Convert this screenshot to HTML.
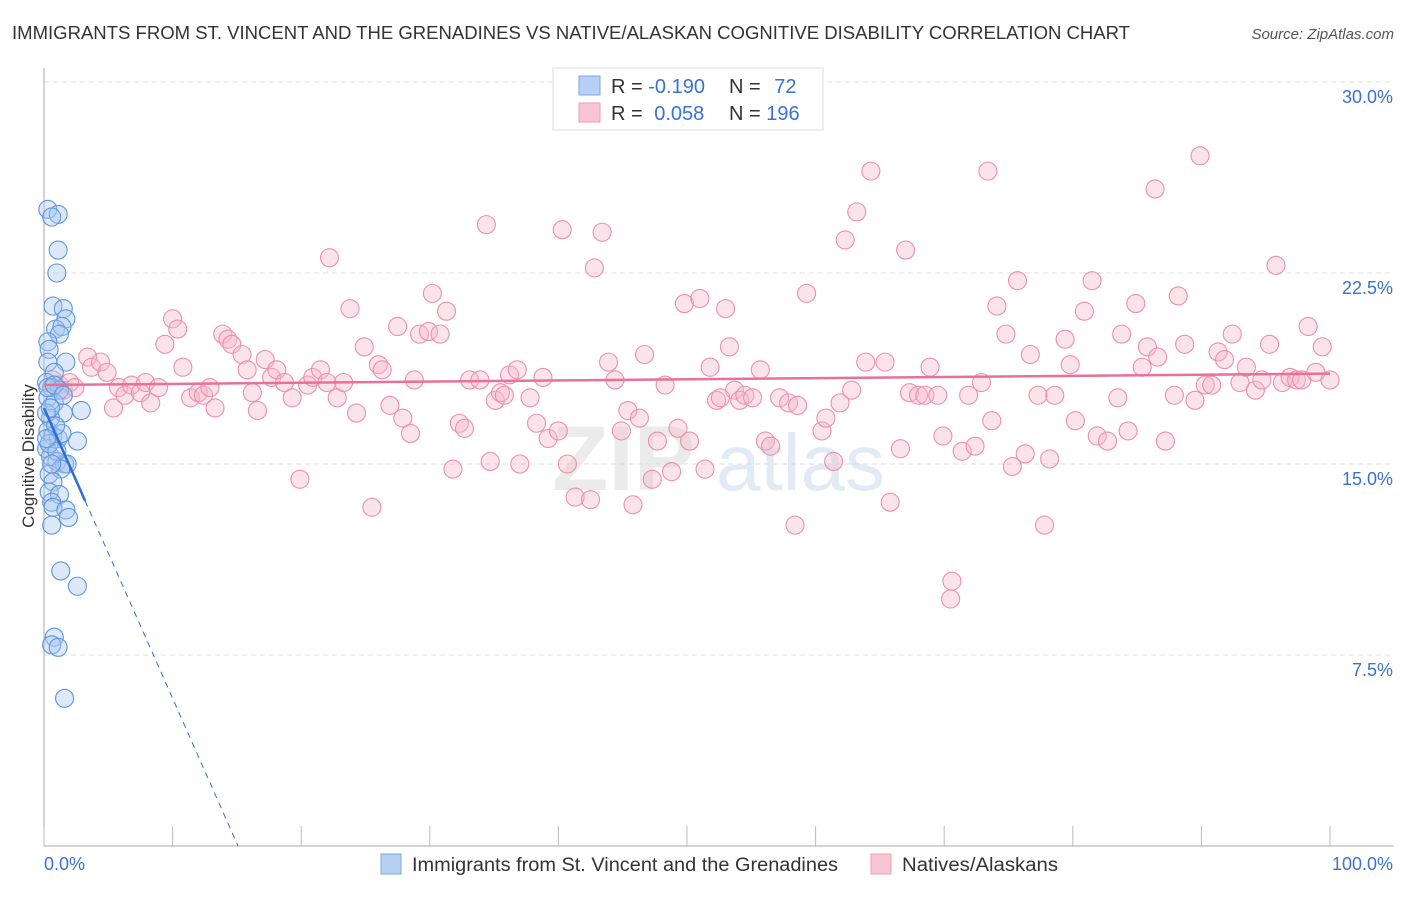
<!DOCTYPE html>
<html><head><meta charset="utf-8"><style>
body{margin:0;background:#fff;font-family:"Liberation Sans",sans-serif}
svg text{font-family:"Liberation Sans",sans-serif}
</style></head><body>
<svg id="chart" width="1406" height="892" viewBox="0 0 1406 892">
<text x="12" y="39" font-size="18" fill="#333" textLength="1118" lengthAdjust="spacingAndGlyphs">IMMIGRANTS FROM ST. VINCENT AND THE GRENADINES VS NATIVE/ALASKAN COGNITIVE DISABILITY CORRELATION CHART</text>
<text x="1394" y="39" font-size="15" fill="#555" font-style="italic" text-anchor="end">Source: ZipAtlas.com</text>
<g opacity="0.5">
<text x="552" y="490" font-size="92" fill="#d8d8d8" font-family="Liberation Serif" font-weight="bold">ZIP</text>
<text x="716" y="490" font-size="80" fill="#c5d8ee">atlas</text>
</g>
<g id="grid"></g>
<g id="axes"></g>
<g id="pts-pink"></g>
<g id="pts-blue"></g>
<g id="lines"></g>
<text transform="translate(34,456) rotate(-90)" font-size="17" fill="#333" text-anchor="middle">Cognitive Disability</text>
<g>
<rect x="553" y="68" width="270" height="62" fill="#fff" stroke="#ddd"/>
<rect x="579" y="76" width="21" height="19" fill="#b8d1f3" stroke="#7aa7e4"/>
<rect x="579" y="103" width="21" height="19" fill="#f9c5d4" stroke="#ee9bb5"/>
<text x="611" y="93" font-size="20" fill="#333">R = <tspan fill="#3a72d0">-0.190</tspan></text>
<text x="729" y="93" font-size="20" fill="#333">N = <tspan fill="#3a72d0" dx="8">72</tspan></text>
<text x="611" y="120" font-size="20" fill="#333">R = <tspan fill="#3a72d0" dx="6">0.058</tspan></text>
<text x="729" y="120" font-size="20" fill="#333">N = <tspan fill="#3a72d0">196</tspan></text>
</g>
<g>
<rect x="381" y="854" width="20" height="20" fill="#b8d1f3" stroke="#7aa7e4"/>
<text x="412" y="871" font-size="19" fill="#333" textLength="426" lengthAdjust="spacingAndGlyphs">Immigrants from St. Vincent and the Grenadines</text>
<rect x="871" y="854" width="20" height="20" fill="#f9c5d4" stroke="#ee9bb5"/>
<text x="902" y="871" font-size="19" fill="#333" textLength="156" lengthAdjust="spacingAndGlyphs">Natives/Alaskans</text>
</g>
</svg>
<script>
const yTicks=[7.5,15,22.5,30];
const yTickLabels=["7.5%","15.0%","22.5%","30.0%"];
const xTicks=[0,10,20,30,40,50,60,70,80,90,100];
const xLabels=["0.0%","100.0%"];
const blueX=[0.3,1.1,0.6,1.1,1.0,0.7,1.5,1.7,0.9,1.4,1.2,0.3,0.4,0.3,1.7,0.8,0.2,0.6,1.2,0.3,0.8,1.5,2.9,0.5,0.3,0.7,1.1,1.4,2.6,0.2,0.5,1.0,1.6,1.8,0.4,1.3,0.7,0.4,1.2,0.6,0.7,1.7,1.9,0.6,1.3,2.6,0.8,0.6,1.1,1.6,0.2,0.9,0.4,1.0,0.5,0.3,0.8,1.5,0.2,0.6];
const blueY=[25.0,24.8,24.7,23.4,22.5,21.2,21.1,20.7,20.3,20.4,20.1,19.8,19.5,19.0,19.0,18.6,18.2,18.0,17.9,17.6,17.4,17.0,17.1,16.8,16.3,16.1,16.0,16.2,15.9,15.6,15.3,15.1,15.0,15.0,14.6,14.8,14.3,13.9,13.8,13.5,13.3,13.2,12.9,12.6,10.8,10.2,8.2,7.9,7.8,5.8,17.0,16.5,15.8,15.5,17.2,18.0,18.1,17.7,16.0,15.0];
const pinkX=[0.7,1.2,1.5,2.0,2.4,3.4,3.7,4.4,4.9,5.4,5.8,6.3,6.8,7.5,7.9,8.3,8.9,9.4,10.0,10.4,10.8,11.4,12.0,12.4,12.9,13.3,13.9,14.3,14.6,15.4,15.8,16.2,16.6,17.2,17.7,18.1,18.7,19.3,19.9,20.5,20.9,21.5,22.0,22.2,22.8,23.3,23.8,24.3,24.9,25.5,26.0,26.3,26.9,27.5,27.9,28.5,28.8,29.2,29.9,30.8,31.3,30.2,31.8,32.3,32.7,33.1,33.9,34.4,34.7,35.1,35.5,35.8,36.2,36.8,37.0,37.8,38.3,38.8,39.2,40.0,40.3,40.7,41.3,42.5,42.8,43.4,43.9,44.4,44.9,45.4,45.8,46.3,46.7,47.3,47.7,48.3,48.8,49.3,49.8,50.2,51.0,51.4,51.8,52.3,53.0,53.3,53.7,54.1,54.5,55.1,55.7,56.1,56.5,57.2,57.9,58.4,58.6,59.3,60.5,60.8,61.4,61.9,62.3,62.8,63.2,63.9,64.3,65.4,65.8,66.6,67.0,67.3,68.0,68.5,68.9,69.5,69.9,70.6,70.5,71.4,71.9,72.4,72.9,73.4,73.7,74.1,74.8,75.3,75.7,76.3,76.7,77.3,77.8,78.2,78.6,79.4,79.8,80.2,80.9,81.5,81.9,82.7,83.5,83.8,84.3,84.9,85.4,85.8,86.6,87.2,87.9,88.2,88.7,89.5,89.9,90.3,90.8,91.3,91.8,92.4,93.0,93.5,94.2,94.7,95.3,95.8,96.3,96.9,97.4,97.8,98.3,98.9,99.4,100.0,86.4,52.6];
const pinkY=[18.3,18.1,17.9,18.2,18.0,19.2,18.8,19.0,18.6,17.2,18.0,17.7,18.1,17.8,18.2,17.4,18.0,19.7,20.7,20.3,18.8,17.6,17.8,17.7,18.0,17.2,20.1,19.9,19.7,19.3,18.7,17.8,17.1,19.1,18.4,18.7,18.2,17.6,14.4,18.1,18.4,18.7,18.2,23.1,17.6,18.2,21.1,17.0,19.6,13.3,18.9,18.7,17.3,20.4,16.8,16.2,18.3,20.1,20.2,20.1,21.0,21.7,14.8,16.6,16.4,18.3,18.3,24.4,15.1,17.5,17.8,17.7,18.5,18.7,15.0,17.6,16.6,18.4,16.0,16.3,24.2,15.0,13.7,13.6,22.7,24.1,19.0,18.3,16.3,17.1,13.4,16.8,19.3,14.4,15.9,18.1,14.7,16.4,21.3,15.9,21.5,14.8,18.8,17.5,21.1,19.6,17.9,17.5,17.7,17.6,18.7,15.9,15.7,17.6,17.4,12.6,17.3,21.7,16.3,16.8,15.1,17.4,23.8,17.9,24.9,19.0,26.5,19.0,13.5,15.6,23.4,17.8,17.7,17.7,18.8,17.7,16.1,10.4,9.7,15.5,17.7,15.7,18.2,26.5,16.7,21.2,20.1,14.9,22.2,15.4,19.3,17.7,12.6,15.2,17.7,19.9,18.9,16.7,21.0,22.2,16.1,15.9,17.6,20.1,16.3,21.3,18.8,19.6,19.2,15.9,17.7,21.6,19.7,17.5,27.1,18.1,18.1,19.4,19.1,20.1,18.2,18.8,17.9,18.3,19.7,22.8,18.2,18.4,18.3,18.3,20.4,18.6,19.6,18.3,25.8,17.6];
const blueTrend=[17.2,-1.14];
const pinkTrend=[18.1,0.0045];

const NS="http://www.w3.org/2000/svg";
const X0=44,X1=1330,Y0=846,YT=82;
const sx=v=>X0+(X1-X0)*v/100;
const sy=v=>Y0-(Y0-YT)*v/30;
function mk(tag,attrs,parent){const e=document.createElementNS(NS,tag);for(const k in attrs)e.setAttribute(k,attrs[k]);parent.appendChild(e);return e;}
const grid=document.getElementById('grid'),axes=document.getElementById('axes');
yTicks.forEach((t,i)=>{
 const l=mk('line',{x1:44,x2:1394,y1:sy(t),y2:sy(t),stroke:'#ddd','stroke-dasharray':'5,4'},grid);
 
 
 const tx=mk('text',{x:1393,y:sy(t)+21,'font-size':18,fill:'#3a72d0','text-anchor':'end'},axes);
 tx.textContent=yTickLabels[i];
 
 
});
const ax=mk('line',{x1:44,x2:44,y1:68,y2:846,stroke:'#aaa'},axes);


const bx=mk('line',{x1:44,x2:1394,y1:846,y2:846,stroke:'#aaa'},axes);


xTicks.forEach(t=>{
 const l=mk('line',{x1:sx(t),x2:sx(t),y1:826,y2:846,stroke:'#bbb'},axes);
 
 
});
const xl0=mk('text',{x:44,y:870,'font-size':18,fill:'#3a72d0'},axes);xl0.textContent=xLabels[0];


const xl1=mk('text',{x:1393,y:870,'font-size':18,fill:'#3a72d0','text-anchor':'end'},axes);xl1.textContent=xLabels[1];


const gp=document.getElementById('pts-pink');
pinkX.forEach((v,i)=>{
 const c=mk('circle',{cx:sx(v),cy:sy(pinkY[i]),r:9,fill:'#f6b8cb','fill-opacity':0.4,stroke:'#ec8fac','stroke-width':1.1},gp);
 
 
});
const gb=document.getElementById('pts-blue');
blueX.forEach((v,i)=>{
 const c=mk('circle',{cx:sx(v),cy:sy(blueY[i]),r:9,fill:'#a9c8f0','fill-opacity':0.4,stroke:'#5d95dc','stroke-width':1.1},gb);
 
 
});
const gl=document.getElementById('lines');
const bEnd=-blueTrend[0]/blueTrend[1];
const bs=mk('line',{x1:sx(0),y1:sy(blueTrend[0]),x2:sx(3.2),y2:sy(blueTrend[0]+blueTrend[1]*3.2),stroke:'#2a6fd6','stroke-width':2.5},gl);


const bd=mk('line',{x1:sx(3.2),y1:sy(blueTrend[0]+blueTrend[1]*3.2),x2:sx(bEnd),y2:sy(0),stroke:'#2a6fd6','stroke-width':1,'stroke-dasharray':'6,5'},gl);


const pl=mk('line',{x1:sx(0),y1:sy(pinkTrend[0]),x2:sx(100),y2:sy(pinkTrend[0]+pinkTrend[1]*100),stroke:'#e8709a','stroke-width':2.5},gl);


</script>
</body></html>
